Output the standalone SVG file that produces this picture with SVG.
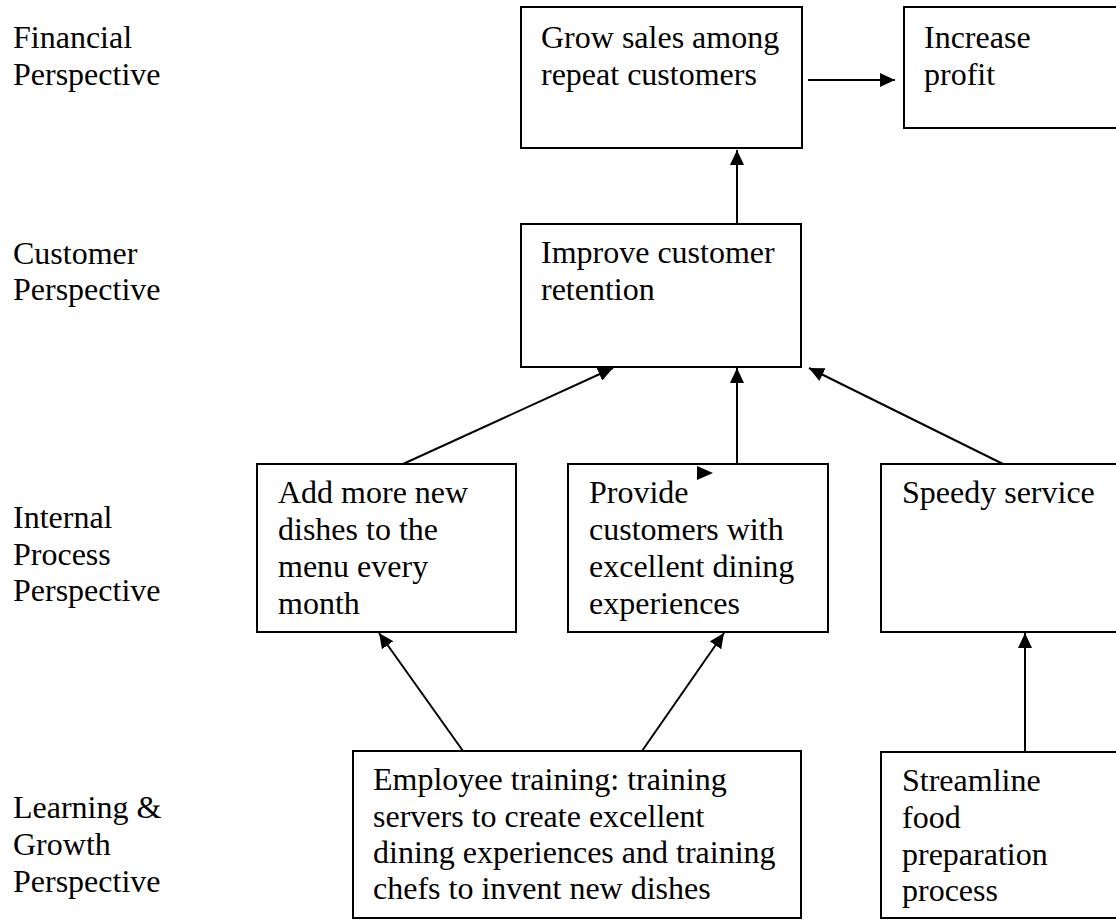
<svg xmlns="http://www.w3.org/2000/svg" width="1116" height="920" viewBox="0 0 1116 920">
<style>
text{font-family:"Liberation Serif","Times New Roman",serif;font-size:32px;fill:#000}
.box{fill:#fff;stroke:#000;stroke-width:2}
.con{stroke:#000;stroke-width:2;fill:none;marker-end:url(#ah)}
</style>
<defs>
<marker id="ah" markerUnits="userSpaceOnUse" markerWidth="15" markerHeight="14" refX="15" refY="7" orient="auto" viewBox="0 0 15 14">
<path d="M0,0 L15,7 L0,14 z" fill="#000"/>
</marker>
</defs>
<rect width="1116" height="920" fill="#fff"/>
<g id="labels">
<text x="13" y="48">Financial</text>
<text x="13" y="85">Perspective</text>
<text x="13" y="264">Customer</text>
<text x="13" y="300">Perspective</text>
<text x="13" y="528">Internal</text>
<text x="13" y="565">Process</text>
<text x="13" y="601">Perspective</text>
<text x="13" y="818">Learning &amp;</text>
<text x="13" y="855">Growth</text>
<text x="13" y="892">Perspective</text>
</g>
<g id="grow">
<rect class="box" x="521" y="7" width="281" height="141"/>
<text x="541" y="48">Grow sales among</text>
<text x="541" y="85">repeat customers</text>
</g>
<g id="profit">
<rect class="box" x="904" y="7" width="230" height="121"/>
<text x="924" y="48">Increase</text>
<text x="924" y="85">profit</text>
</g>
<g id="retention">
<rect class="box" x="521" y="224" width="280" height="143"/>
<text x="541" y="263">Improve customer</text>
<text x="541" y="300">retention</text>
</g>
<g id="dishes">
<rect class="box" x="257" y="464" width="259" height="168"/>
<text x="278" y="503">Add more new</text>
<text x="278" y="540">dishes to the</text>
<text x="278" y="577">menu every</text>
<text x="278" y="614">month</text>
</g>
<g id="dining">
<rect class="box" x="568" y="464" width="260" height="168"/>
<text x="589" y="503">Provide</text>
<text x="589" y="540">customers with</text>
<text x="589" y="577">excellent dining</text>
<text x="589" y="614">experiences</text>
</g>
<g id="speedy">
<rect class="box" x="881" y="464" width="245" height="168"/>
<text x="902" y="503">Speedy service</text>
</g>
<g id="training">
<rect class="box" x="353" y="751" width="448" height="167"/>
<text x="373" y="790">Employee training: training</text>
<text x="373" y="827">servers to create excellent</text>
<text x="373" y="863">dining experiences and training</text>
<text x="373" y="899">chefs to invent new dishes</text>
</g>
<g id="streamline">
<rect class="box" x="881" y="752" width="245" height="166"/>
<text x="902" y="791">Streamline</text>
<text x="902" y="828">food</text>
<text x="902" y="865">preparation</text>
<text x="902" y="901">process</text>
</g>
<g id="connectors">
<line class="con" x1="808" y1="80" x2="895" y2="80"/>
<line class="con" x1="737" y1="224" x2="737" y2="150"/>
<line class="con" x1="403" y1="464" x2="613" y2="368"/>
<line class="con" x1="737" y1="464" x2="737" y2="368"/>
<line class="con" x1="1003" y1="464" x2="809" y2="368"/>
<line class="con" x1="463" y1="751" x2="379" y2="633"/>
<line class="con" x1="642" y1="751" x2="724" y2="633"/>
<line class="con" x1="1025" y1="752" x2="1025" y2="633"/>
<polygon points="697,466 713,473 697,480" fill="#000"/>
</g>
</svg>
